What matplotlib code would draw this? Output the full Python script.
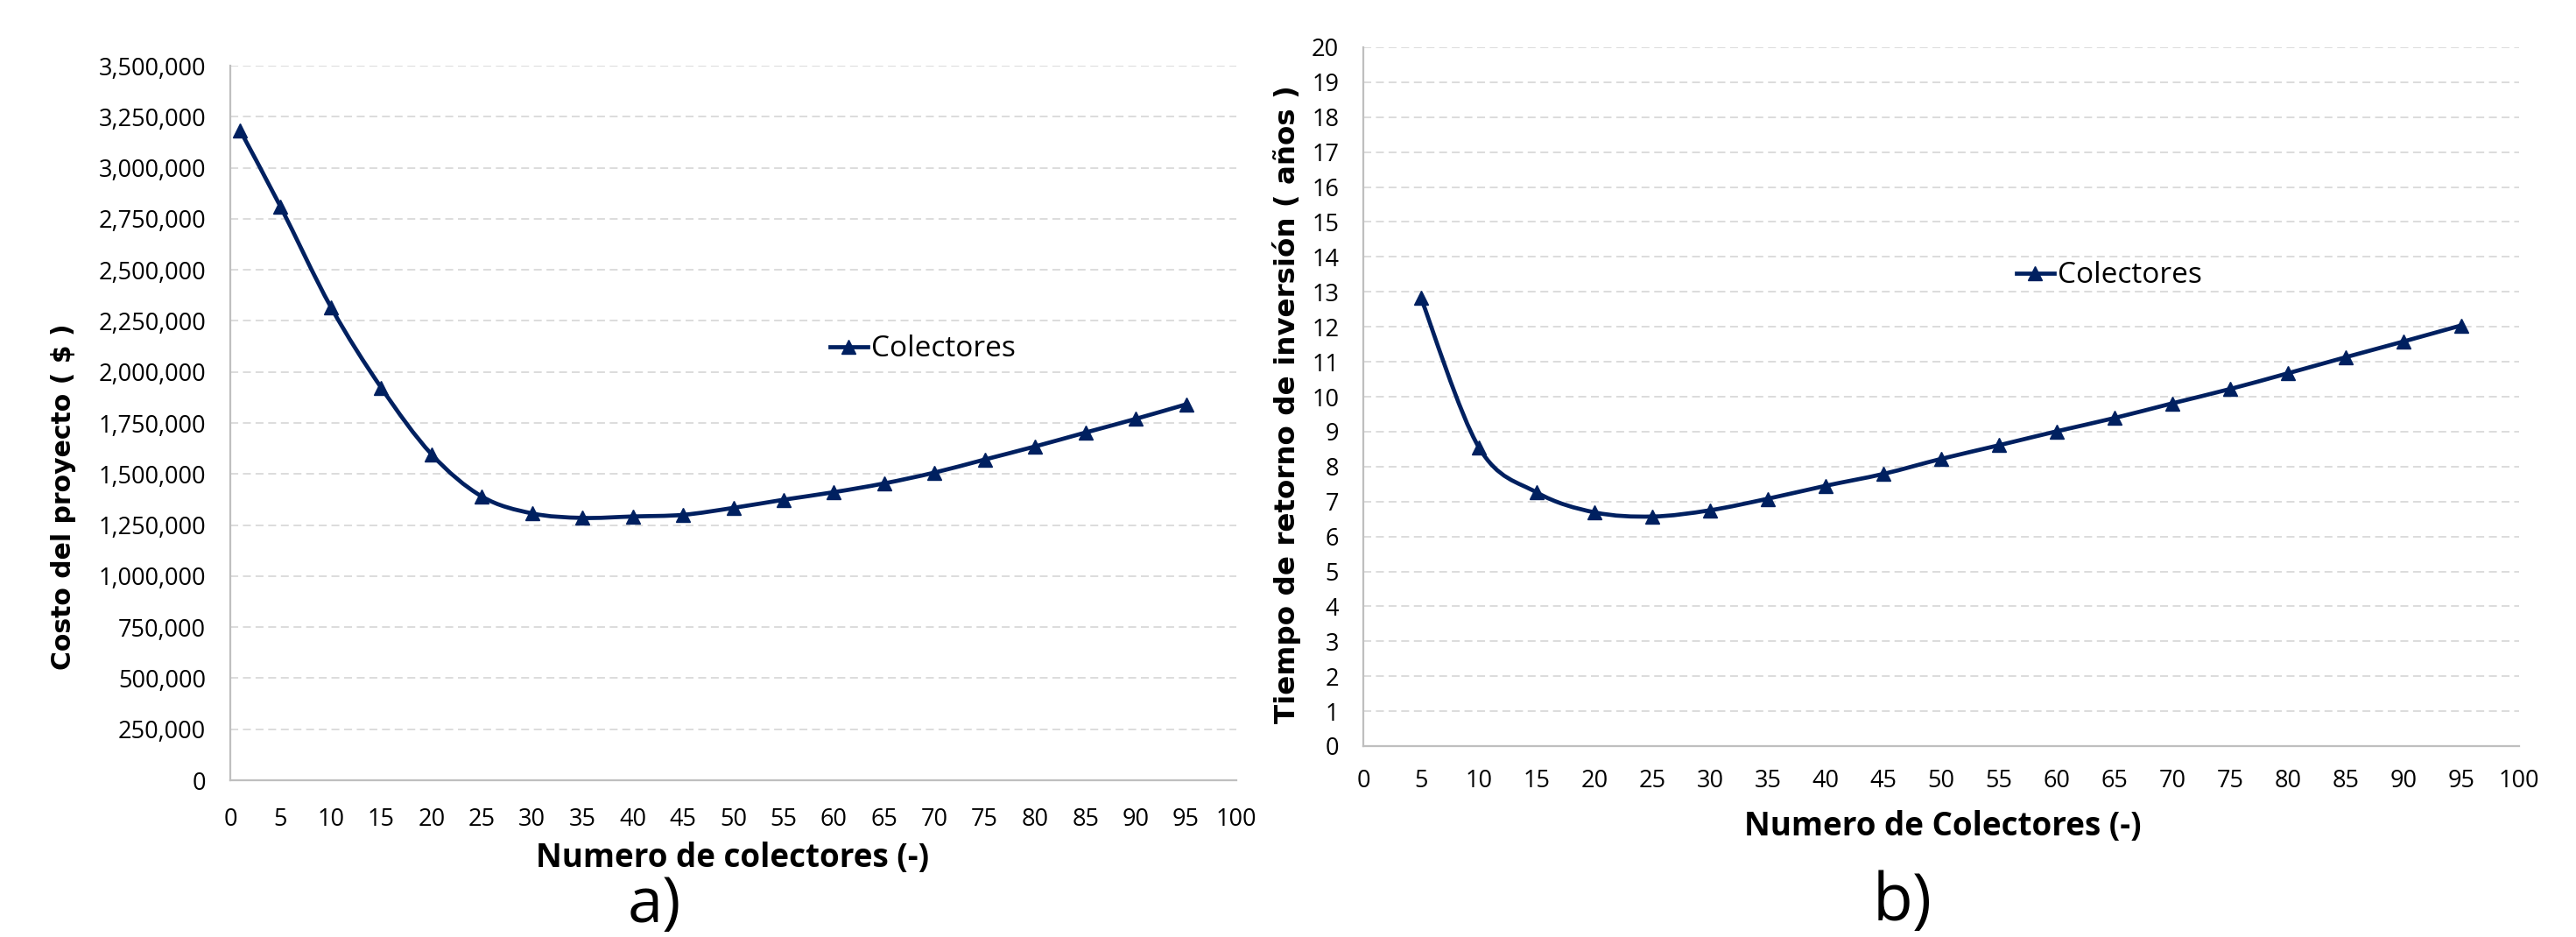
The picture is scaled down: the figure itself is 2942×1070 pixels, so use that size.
import matplotlib
matplotlib.use("Agg")
import matplotlib.pyplot as plt
import numpy as np
from matplotlib.path import Path
from matplotlib.patches import PathPatch
from matplotlib.lines import Line2D
from matplotlib.ticker import FuncFormatter, MultipleLocator

# ---------------- data ----------------
x_cost = [1, 5, 10, 15, 20, 25, 30, 35, 40, 45, 50, 55, 60, 65, 70, 75, 80, 85, 90, 95]
cost = [3181000, 2809000, 2318000, 1923000, 1597000, 1390000, 1307000, 1285000,
        1292000, 1300000, 1334000, 1374000, 1411000, 1454000, 1507000, 1571000,
        1635000, 1703000, 1770000, 1841000]

x_pay = [5, 10, 15, 20, 25, 30, 35, 40, 45, 50, 55, 60, 65, 70, 75, 80, 85, 90, 95]
payback = [12.82, 8.55, 7.26, 6.69, 6.57, 6.75, 7.08, 7.45, 7.79, 8.22, 8.61,
           9.01, 9.39, 9.81, 10.22, 10.67, 11.13, 11.58, 12.04]

series_name = "Colectores"
xlabel_a = "Numero de colectores (-)"
ylabel_a = "Costo del proyecto ( $ )"
xlabel_b = "Numero de Colectores (-)"
ylabel_b = "Tiempo de retorno de inversión ( años )"
panel_a = "a)"
panel_b = "b)"

# ---------------- style ----------------
W, H = 2942, 1070
NAVY = "#002060"
GRID = "#D9D9D9"
SPINE = "#BFBFBF"
NARROW = ["Open Sans", "DejaVu Sans"]
WIDE_BOLD = ["DejaVu Sans"]

fig = plt.figure(figsize=(W / 100, H / 100), dpi=100)


def px_rect(x0, y0, x1, y1):
    return [x0 / W, 1 - y1 / H, (x1 - x0) / W, (y1 - y0) / H]


def smooth_path(xs, ys):
    """Excel-like smoothed line: cubic Bezier segments (Catmull-Rom control points)."""
    P = np.column_stack([xs, ys]).astype(float)
    n = len(P)
    verts = [P[0]]
    codes = [Path.MOVETO]
    for i in range(n - 1):
        p_prev = P[i - 1] if i > 0 else P[i]
        p_next2 = P[i + 2] if i + 2 < n else P[i + 1]
        c1 = P[i] + (P[i + 1] - p_prev) / 6.0
        c2 = P[i + 1] - (p_next2 - P[i]) / 6.0
        verts += [c1, c2, P[i + 1]]
        codes += [Path.CURVE4] * 3
    return Path(verts, codes)


def style_axes(ax):
    for s in ["top", "right"]:
        ax.spines[s].set_visible(False)
    for s in ["left", "bottom"]:
        ax.spines[s].set_color(SPINE)
        ax.spines[s].set_linewidth(1.6)
    ax.grid(axis="y", color=GRID, linestyle=(0, (5, 3)), linewidth=1.3)
    ax.set_axisbelow(True)
    ax.tick_params(axis="both", length=0, labelsize=19.5)
    for lab in ax.get_xticklabels() + ax.get_yticklabels():
        lab.set_family(NARROW)


def draw_series(ax, xs, ys, legend_anchor):
    ax.add_patch(PathPatch(smooth_path(xs, ys), facecolor="none",
                           edgecolor=NAVY, linewidth=3.4, zorder=3))
    ax.plot(xs, ys, linestyle="none", marker="^", markersize=11,
            color=NAVY, zorder=4)
    handle = Line2D([], [], color=NAVY, linewidth=3.4, marker="^", markersize=11)
    ax.legend([handle], [series_name], loc="center left",
              bbox_to_anchor=legend_anchor, frameon=False, borderpad=0,
              borderaxespad=0, handlelength=1.3, handletextpad=0.12,
              prop={"family": NARROW, "size": 24})


# ---------------- panel a ----------------
ax1 = fig.add_axes(px_rect(263, 75, 1412, 891))
ax1.set_xlim(0, 100)
ax1.set_ylim(0, 3500000)
ax1.xaxis.set_major_locator(MultipleLocator(5))
ax1.yaxis.set_major_locator(MultipleLocator(250000))
ax1.yaxis.set_major_formatter(FuncFormatter(lambda v, p: f"{v:,.0f}"))
draw_series(ax1, x_cost, cost, (0.596, 0.603))
style_axes(ax1)
ax1.tick_params(axis="x", pad=22)
ax1.tick_params(axis="y", pad=20)

# ---------------- panel b ----------------
ax2 = fig.add_axes(px_rect(1557, 54, 2877, 852))
ax2.set_xlim(0, 100)
ax2.set_ylim(0, 20)
ax2.xaxis.set_major_locator(MultipleLocator(5))
ax2.yaxis.set_major_locator(MultipleLocator(1))
draw_series(ax2, x_pay, payback, (0.565, 0.673))
style_axes(ax2)
ax2.tick_params(axis="x", pad=19)
ax2.tick_params(axis="y", pad=20)

# ---------------- labels ----------------
fig.text(837 / W, 1 - 980 / H, xlabel_a, ha="center", va="center",
         family=NARROW, fontsize=26.5, fontweight="bold")
fig.text(2219 / W, 1 - 944 / H, xlabel_b, ha="center", va="center",
         family=NARROW, fontsize=26.5, fontweight="bold")
fig.text(73 / W, 1 - 567 / H, ylabel_a, ha="center", va="center", rotation=90,
         family=WIDE_BOLD, fontsize=21.5, fontweight="bold")
fig.text(1470 / W, 1 - 462 / H, ylabel_b, ha="center", va="center", rotation=90,
         family=WIDE_BOLD, fontsize=23.4, fontweight="bold")
fig.text(747 / W, 1 - 1070 / H, panel_a, ha="center", va="bottom",
         family=NARROW, fontsize=52)
fig.text(2173 / W, 1 - 1069 / H, panel_b, ha="center", va="bottom",
         family=NARROW, fontsize=54)

fig.savefig("out.png", dpi=100, facecolor="white")
